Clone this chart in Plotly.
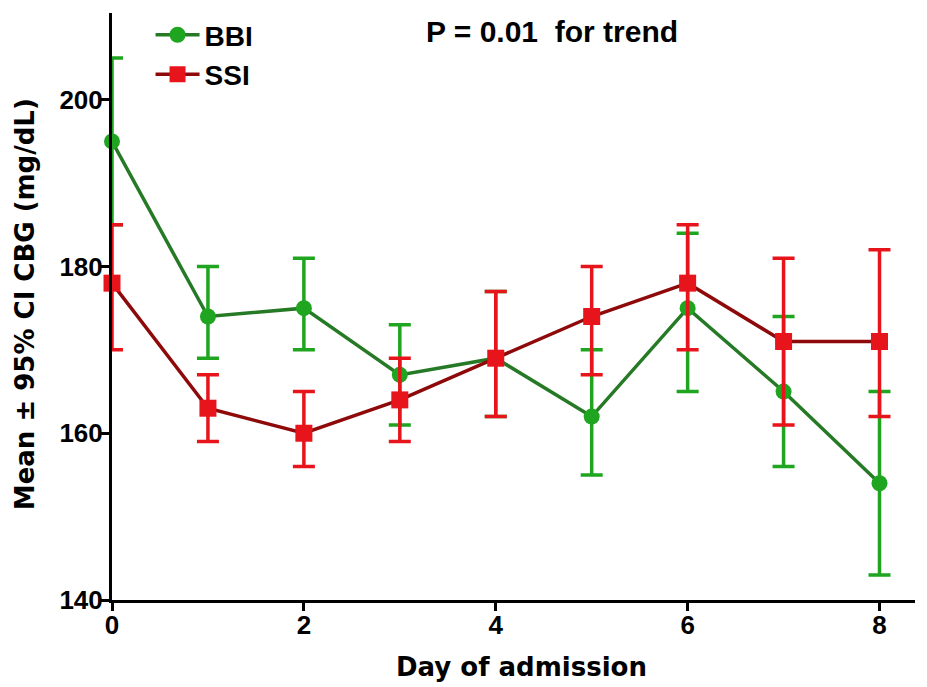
import plotly.graph_objects as go

days = [0, 1, 2, 3, 4, 5, 6, 7, 8]

bbi_mean = [195, 174, 175, 167, 169, 162, 175, 165, 154]
bbi_upper = [205, 180, 181, 173, 177, 170, 184, 174, 165]
bbi_lower = [185, 169, 170, 161, 162, 155, 165, 156, 143]

ssi_mean = [178, 163, 160, 164, 169, 174, 178, 171, 171]
ssi_upper = [185, 167, 165, 169, 177, 180, 185, 181, 182]
ssi_lower = [170, 159, 156, 159, 162, 167, 170, 161, 162]

x_ticks = [0, 2, 4, 6, 8]
y_ticks = [140, 160, 180, 200]

FONT = "Liberation Sans"
TFONT = "DejaVu Sans"

fig = go.Figure()

def add_series(name, mean, upper, lower, line_color, mark_color, symbol, msize):
    fig.add_trace(go.Scatter(
        x=days, y=mean, name=name, mode="lines+markers",
        line=dict(color=line_color, width=3.5),
        marker=dict(color=mark_color, size=msize, symbol=symbol),
        error_y=dict(type="data", symmetric=False,
                     array=[u - m for u, m in zip(upper, mean)],
                     arrayminus=[m - l for m, l in zip(mean, lower)],
                     color=mark_color, thickness=3.5, width=11),
        cliponaxis=False,
    ))

add_series("BBI", bbi_mean, bbi_upper, bbi_lower, "#267a26", "#1fa51f", "circle", 16)
add_series("SSI", ssi_mean, ssi_upper, ssi_lower, "#8e0a0a", "#e8141c", "square", 17)

fig.add_annotation(x=0.3885, y=1.0, xref="paper", yref="paper",
                   text="<b>P = 0.01  for trend</b>", showarrow=False,
                   xanchor="left", yanchor="top",
                   font=dict(family=FONT, size=30, color="black"))

fig.add_annotation(x=0.51, y=-0.1136, xref="paper", yref="paper",
                   text="<b>Day of admission</b>", showarrow=False,
                   xanchor="center", yanchor="middle",
                   font=dict(family=TFONT, size=26, color="black"))

fig.add_annotation(x=-0.1083, y=0.504, xref="paper", yref="paper",
                   text="<b>Mean ± 95% CI CBG (mg/dL)</b>", showarrow=False,
                   textangle=-90, xanchor="center", yanchor="middle",
                   font=dict(family=TFONT, size=26, color="black"))

fig.update_layout(
    width=919, height=679,
    margin=dict(l=104, r=12, t=2, b=87),
    paper_bgcolor="white", plot_bgcolor="white",
    font=dict(family=FONT, color="black"),
    showlegend=True,
    legend=dict(x=0.048, y=1.005, xanchor="left", yanchor="top",
                bgcolor="rgba(0,0,0,0)",
                font=dict(family=FONT, size=28, color="black", weight="bold"),
                itemwidth=44, tracegroupgap=0),
    xaxis=dict(range=[0, 8.37], tickvals=x_ticks, ticktext=[str(t) for t in x_ticks],
               showgrid=False, zeroline=False, showline=True, linecolor="black", linewidth=3,
               ticks="outside", ticklen=8, tickwidth=3, tickcolor="black",
               tickfont=dict(family=FONT, size=26, weight="bold"),
               ticklabelstandoff=-8, automargin=False),
    yaxis=dict(range=[140, 210.4], tickvals=y_ticks, ticktext=[str(t) for t in y_ticks],
               showgrid=False, zeroline=False, showline=True, linecolor="black", linewidth=3,
               ticks="outside", ticklen=10, tickwidth=3, tickcolor="black",
               tickfont=dict(family=FONT, size=26, weight="bold"),
               ticklabelstandoff=-9, automargin=False),
)

fig.write_html("out.html")
